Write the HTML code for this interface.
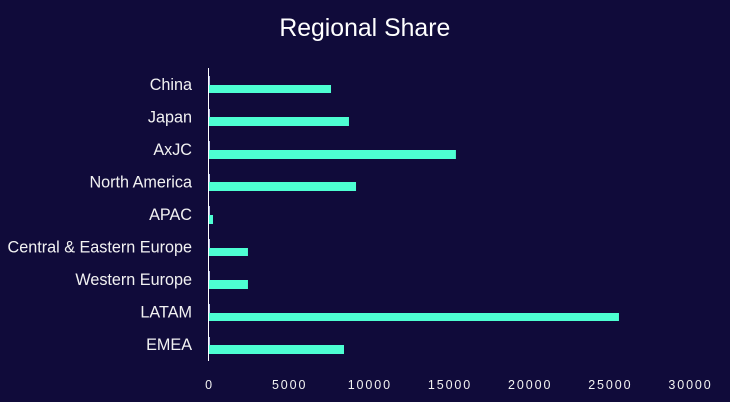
<!DOCTYPE html>
<html lang="en">
<head>
<meta charset="utf-8">
<title>Regional Share</title>
<style>
html,body{margin:0;padding:0;background:#100b3a;}
svg{display:block;font-family:"Liberation Sans",sans-serif;}
</style>
</head>
<body>
<svg id="chart" xmlns="http://www.w3.org/2000/svg" width="730" height="402" viewBox="0 0 730 402">
<rect x="0" y="0" width="730" height="402" fill="#100b3a"></rect>
<text x="364.8" y="36" text-anchor="middle" font-size="24.8" fill="#ffffff">Regional Share</text>
<g id="bars"></g>
<g id="y-labels"></g>
<g id="x-labels"></g>
<rect x="208" y="68" width="1" height="293" fill="#ffffff"></rect>
</svg>
<script>
const categories = ["China", "Japan", "AxJC", "North America", "APAC", "Central & Eastern Europe", "Western Europe", "LATAM", "EMEA"];
const primaryValues = [7610, 8730, 15400, 9170, 250, 2430, 2430, 25570, 8420];
const secondaryValues = [60, 60, 60, 60, 60, 60, 60, 60, 60];
const xTickValues = [0, 5000, 10000, 15000, 20000, 25000, 30000];

const NS = "http://www.w3.org/2000/svg";
const plotLeft = 209, plotRight = 690, plotTop = 68, plotBottom = 361;
const xMax = 30000;
function xScale(v) { return plotLeft + (v / xMax) * (plotRight - plotLeft); }
const bandH = (plotBottom - plotTop) / categories.length;
function bandCenter(i) { return plotTop + bandH * (i + 0.5); }
const barH = bandH * 0.265;

const barsG = document.getElementById("bars");
const yG = document.getElementById("y-labels");
const xG = document.getElementById("x-labels");

categories.forEach(function (name, i) {
  const c = bandCenter(i);
  const y0 = Math.ceil(c - barH);
  const y1 = Math.ceil(c);
  const y2 = Math.ceil(c + barH);

  const thin = document.createElementNS(NS, "rect");
  thin.setAttribute("x", plotLeft);
  thin.setAttribute("y", y0);
  thin.setAttribute("width", xScale(secondaryValues[i]) - plotLeft);
  thin.setAttribute("height", y1 - y0);
  thin.setAttribute("fill", "#b9c4e8");
  
  
  barsG.appendChild(thin);

  const bar = document.createElementNS(NS, "rect");
  bar.setAttribute("x", plotLeft);
  bar.setAttribute("y", y1);
  bar.setAttribute("width", xScale(primaryValues[i]) - plotLeft);
  bar.setAttribute("height", y2 - y1);
  bar.setAttribute("fill", "#4dffd2");
  
  
  barsG.appendChild(bar);

  const label = document.createElementNS(NS, "text");
  label.setAttribute("x", 192);
  label.setAttribute("y", c + 5.5);
  label.setAttribute("text-anchor", "end");
  label.setAttribute("font-size", "16.2");
  label.setAttribute("fill", "#f2f2f2");
  
  
  label.textContent = name;
  yG.appendChild(label);
});

xTickValues.forEach(function (v) {
  const t = document.createElementNS(NS, "text");
  t.setAttribute("x", xScale(v) + 0.5);
  t.setAttribute("y", 389);
  t.setAttribute("text-anchor", "middle");
  t.setAttribute("font-size", "12.5");
  t.setAttribute("letter-spacing", "1.9");
  t.setAttribute("fill", "#f2f2f2");
  
  
  t.textContent = String(v);
  xG.appendChild(t);
});
</script>
</body>
</html>
